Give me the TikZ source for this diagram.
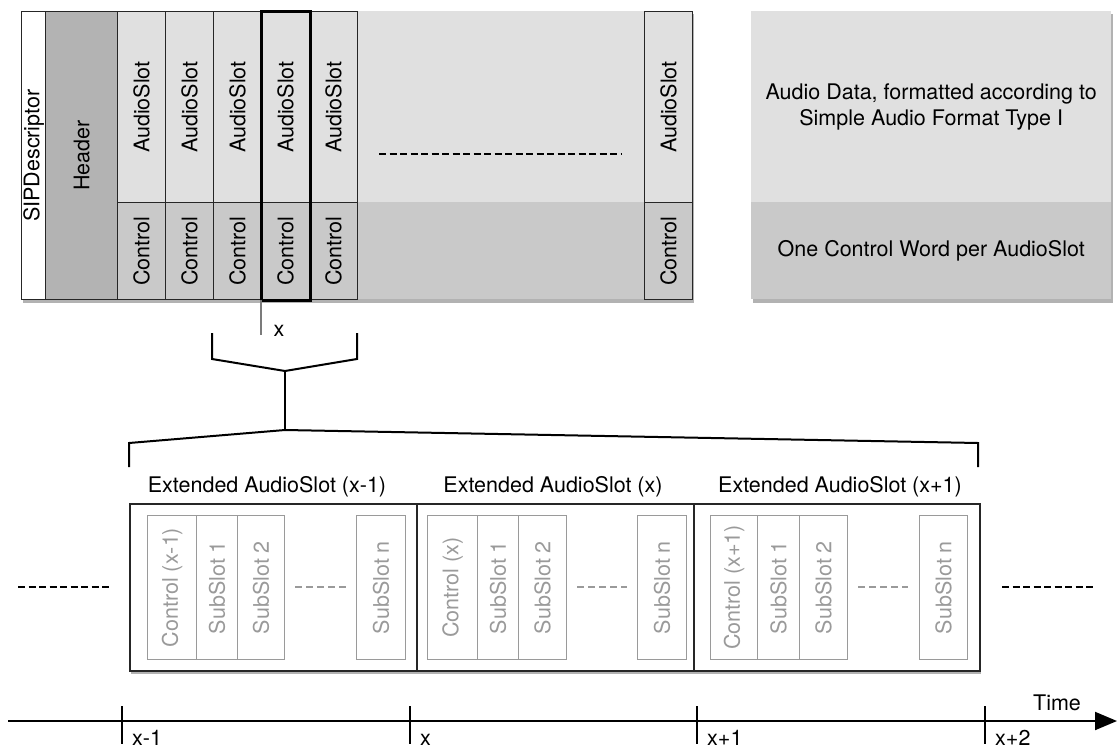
\documentclass[tikz,border=0pt]{standalone}
\usepackage{fontspec}
\usepackage{graphicx}
\setmainfont{TeX Gyre Heros}
\usetikzlibrary{arrows.meta,positioning}

\definecolor{slotgray}{HTML}{E0E0E0}
\definecolor{ctrlgray}{HTML}{C9C9C9}
\definecolor{headgray}{HTML}{B3B3B3}
\definecolor{subgray}{HTML}{9A9A9A}

\tikzset{
  cell/.style={draw=black!85, line width=1.3pt, inner sep=0pt, anchor=north west},
  legendbox/.style={inner sep=0pt, anchor=north west, minimum width=360, align=center},
  bigbox/.style={draw=black!85, line width=1.5pt, inner sep=0pt, anchor=north west, minimum height=167},
  subcell/.style={draw=subgray, line width=1.1pt, inner sep=0pt, anchor=north west,
    minimum height=144, text=subgray},
  shadowfill/.style={fill=black, opacity=0.3},
  dashline/.style={line width=2pt, dash pattern=on 7pt off 3.5pt},
  subdash/.style={subgray, line width=1.5pt, dash pattern=on 7pt off 4pt},
  brace/.style={line width=2pt, line join=miter},
  tick/.style={line width=2pt}
}

\begin{document}
\begin{tikzpicture}[x=1pt, y=-1pt, font=\fontsize{21.5}{26}\selectfont]
  \useasboundingbox (0,0) rectangle (1117,750);

  % shadows
  \fill[shadowfill] (23,14) rectangle (694,303);
  \fill[shadowfill] (753,14) rectangle (1113,303);
  \fill[shadowfill] (131,506) rectangle (981,674);

  % descriptor strip
  \fill[slotgray] (357,11) rectangle (644,202);
  \fill[ctrlgray] (357,202) rectangle (644,299);
  \node[cell, fill=white, minimum width=24, minimum height=288] (sip) at (21,11) {\rotatebox{90}{SIPDescriptor}};
  \node[cell, fill=headgray, minimum width=72, minimum height=288] (header) at (45,11) {\rotatebox{90}{Header}};
  \foreach \i/\x in {1/117,2/165,3/213,4/261,5/309,6/644} {
    \node[cell, fill=slotgray, minimum width=48, minimum height=191] (slot\i) at (\x,11) {\rotatebox{90}{AudioSlot}};
    \node[cell, fill=ctrlgray, minimum width=48, minimum height=97] (ctrl\i) at (\x,202) {\rotatebox{90}{Control}};
  }
  \draw[line width=3pt] (slot4.north west) rectangle (ctrl4.south east);
  \draw[dashline] (379,154) -- (622,154);

  % legend
  \node[legendbox, fill=slotgray, minimum height=191] (audiodata) at (751,11)
    {Audio Data, formatted according to\\Simple Audio Format Type I};
  \node[legendbox, fill=ctrlgray, minimum height=97] (ctrlword) at (751,202) {One Control Word per AudioSlot};

  % zoom into slot x
  \coordinate (ptrend) at (261,335);
  \draw[subgray!80!black, line width=1.3pt] (ctrl4.south west) -- (ptrend);
  \node (xmark) at (279,331) {x};
  \coordinate (upL) at (212,333);
  \coordinate (upR) at (357,333);
  \coordinate (upmid) at (285,371);
  \coordinate (lowmid) at (285,430);
  \coordinate (lowL) at (129,467);
  \coordinate (lowR) at (978,467);
  \draw[brace] (upL) -- ++(0,26) -- (upmid) -- (357,359) -- (upR);
  \draw[brace] (upmid) -- (lowmid);
  \draw[brace] (lowL) -- ++(0,-24) -- (lowmid) -- (978,443) -- (lowR);

  % extended audio slots
  \node (ttl1) at (267,487) {Extended AudioSlot (x-1)};
  \node (ttl2) at (553,487) {Extended AudioSlot (x)};
  \node (ttl3) at (840,487) {Extended AudioSlot (x+1)};
  \fill[white] (129,503) rectangle (979,670);
  \node[bigbox, minimum width=287] (ext1) at (129,503) {};
  \node[bigbox, minimum width=277] (ext2) at (416,503) {};
  \node[bigbox, minimum width=286] (ext3) at (693,503) {};

  \node[subcell, minimum width=49] (ctl1) at (147,515) {\rotatebox{90}{Control (x-1)}};
  \node[subcell, minimum width=41] (sa1) at (196,515) {\rotatebox{90}{SubSlot 1}};
  \node[subcell, minimum width=47] (sb1) at (237,515) {\rotatebox{90}{SubSlot 2}};
  \node[subcell, minimum width=49] (sn1) at (356,515) {\rotatebox{90}{SubSlot n}};
  \draw[subdash] (295,587) -- (346,587);

  \node[subcell, minimum width=50] (ctl2) at (427,515) {\rotatebox{90}{Control (x)}};
  \node[subcell, minimum width=41] (sa2) at (477,515) {\rotatebox{90}{SubSlot 1}};
  \node[subcell, minimum width=48] (sb2) at (518,515) {\rotatebox{90}{SubSlot 2}};
  \node[subcell, minimum width=49] (sn2) at (637,515) {\rotatebox{90}{SubSlot n}};
  \draw[subdash] (577,587) -- (627,587);

  \node[subcell, minimum width=47] (ctl3) at (710,515) {\rotatebox{90}{Control (x+1)}};
  \node[subcell, minimum width=42] (sa3) at (757,515) {\rotatebox{90}{SubSlot 1}};
  \node[subcell, minimum width=48] (sb3) at (799,515) {\rotatebox{90}{SubSlot 2}};
  \node[subcell, minimum width=48] (sn3) at (919,515) {\rotatebox{90}{SubSlot n}};
  \draw[subdash] (858,587) -- (908,587);

  \draw[dashline] (18,587) -- (112,587);
  \draw[dashline] (1002,587) -- (1093,587);

  % time axis
  \draw[line width=2pt, -{Triangle[length=22pt, width=18pt]}] (8,721) -- (1117,721);
  \foreach \t/\lab in {122/x-1, 410/x, 697/x+1, 985/x+2} {
    \draw[tick] (\t,706) -- (\t,744);
    \node[anchor=base west, inner sep=1pt] at (\t+9,745) {\lab};
  }
  \node (timelbl) at (1057,703) {Time};
\end{tikzpicture}
\end{document}
